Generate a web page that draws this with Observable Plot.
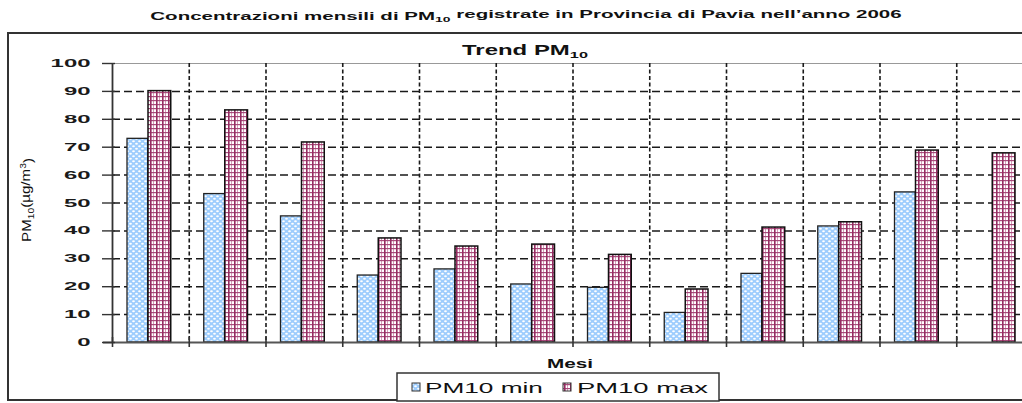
<!DOCTYPE html>
<html>
<head>
<meta charset="utf-8">
<script src="https://cdn.jsdelivr.net/npm/d3@7"></script>
<script src="https://cdn.jsdelivr.net/npm/@observablehq/plot@0.6"></script>
<style>
  html, body { margin: 0; padding: 0; background: #fff; }
  #wrap { position: relative; width: 1022px; height: 403px; overflow: hidden; background: #fff; }
  #wrap svg { position: absolute; left: 0; top: 0; max-width: none !important; }
  #overlay { pointer-events: none; }
</style>
</head>
<body>
<svg width="0" height="0" style="position:absolute">
  <defs>
    <pattern id="pmin" patternUnits="userSpaceOnUse" width="6" height="5">
      <rect width="6" height="5" fill="#9ecdfd"/>
      <ellipse cx="1.5" cy="1.25" rx="1.4" ry="1.05" fill="#ffffff"/>
      <ellipse cx="4.5" cy="3.75" rx="1.4" ry="1.05" fill="#ffffff"/>
    </pattern>
    <pattern id="pmax" patternUnits="userSpaceOnUse" width="6" height="4">
      <rect width="6" height="4" fill="#ffffff"/>
      <rect x="3" y="0" width="1" height="4" fill="#d59ab8"/>
      <rect x="0" y="0" width="6" height="1.2" fill="#a84c7c"/>
      <rect x="0" y="0" width="1.6" height="4" fill="#962d62"/>
    </pattern>
  </defs>
</svg>
<div id="wrap"></div>
<script>
const months = ["Gen","Feb","Mar","Apr","Mag","Giu","Lug","Ago","Set","Ott","Nov","Dic"];
const pm10Min = [73.0, 53.2, 45.2, 24.0, 26.2, 20.8, 19.6, 10.6, 24.6, 41.6, 53.8, null];
const pm10Max = [90.1, 83.2, 71.7, 37.3, 34.4, 35.1, 31.4, 19.0, 41.2, 43.1, 68.8, 67.8];
const yTicks = [0, 10, 20, 30, 40, 50, 60, 70, 80, 90, 100];
const seriesNames = ["PM10 min", "PM10 max"];

const FONT = "'Liberation Sans', Arial, Helvetica, sans-serif";

const rows = months.flatMap((m, i) => [
  {month: m, i, series: seriesNames[0], value: pm10Min[i]},
  {month: m, i, series: seriesNames[1], value: pm10Max[i]}
]).filter(d => d.value != null);

const boundaries = d3.range(0, months.length + 1);

const chart = Plot.plot({
  width: 1040,
  height: 403,
  marginLeft: 112,
  marginRight: 7,
  marginTop: 63,
  marginBottom: 61,
  x: {type: "linear", domain: [0, months.length], axis: null},
  y: {domain: [0, 100], axis: null},
  style: {background: "transparent", fontFamily: FONT, overflow: "visible"},
  marks: [
    Plot.ruleY(yTicks.filter(v => v > 0 && v < 100), {stroke: "#1a1a1a", strokeWidth: 1.5, strokeDasharray: "8,4"}),
    Plot.ruleY([100], {stroke: "#999", strokeWidth: 1}),
    Plot.ruleX(boundaries.slice(1), {stroke: "#1a1a1a", strokeWidth: 1.6, strokeDasharray: "4,2.5"}),
    Plot.rect(rows.filter(d => d.series === seriesNames[0]), {
      x1: "i", x2: d => d.i + 1, y1: 0, y2: "value",
      insetLeft: 15, insetRight: 41,
      fill: "url(#pmin)", stroke: "#222", strokeWidth: 1.3
    }),
    Plot.rect(rows.filter(d => d.series === seriesNames[1]), {
      x1: "i", x2: d => d.i + 1, y1: 0, y2: "value",
      insetLeft: 36, insetRight: 18,
      fill: "url(#pmax)", stroke: "#111", strokeWidth: 1.5
    }),
    Plot.ruleX([0], {stroke: "#333", strokeWidth: 1.8}),
    Plot.ruleY([0], {stroke: "#555", strokeWidth: 1.8, insetLeft: -9}),
    Plot.ruleX(boundaries, {y1: 0, y2: 0, insetTop: -5, insetBottom: -5, stroke: "#333", strokeWidth: 1.6}),
    Plot.ruleY(yTicks, {x1: 0, x2: 0, insetLeft: -10, insetRight: -3, stroke: "#333", strokeWidth: 1.4}),
    Plot.text(yTicks, {x: 0, y: d => d, text: d => String(d), textAnchor: "end", dx: -22,
      fontWeight: "bold", fontSize: 11, fill: "#1a1a1a"})
  ]
});
chart.style.maxWidth = "none";
chart.style.height = "403px";
document.getElementById("wrap").appendChild(chart);

// stretch tick labels to match the wide digits of the original
d3.select(chart).selectAll("text").each(function() {
  const s = this.textContent.trim();
  if (/^\d+$/.test(s)) {
    d3.select(this).attr("textLength", s.length * 13.3).attr("lengthAdjust", "spacingAndGlyphs");
  }
});

// overlay: frame, titles, axis labels, legend
const ov = d3.select("#wrap").append("svg")
  .attr("id", "overlay").attr("width", 1022).attr("height", 403);

ov.append("rect").attr("x", 8).attr("y", 33).attr("width", 1100).attr("height", 367)
  .attr("fill", "none").attr("stroke", "#333").attr("stroke-width", 2);

function label(parts, {x, y, size, weight = "normal", anchor = "middle", width, rotate = 0}) {
  const t = ov.append("text")
    .attr("font-family", FONT).attr("font-size", size).attr("font-weight", weight)
    .attr("text-anchor", anchor).attr("fill", "#111");
  let shift = 0;
  parts.forEach(p => {
    const ts = t.append("tspan").text(p.t);
    const want = p.sub ? 0.3 : p.sup ? -0.45 : 0;
    if (want !== shift) ts.attr("dy", (want - shift) + "em");
    if (p.sub || p.sup) ts.attr("font-size", size * 0.68);
    shift = want;
  });
  const w = t.node().getComputedTextLength();
  const s = width ? width / w : 1;
  t.attr("transform", `translate(${x},${y})${rotate ? ` rotate(${rotate})` : ""} scale(${s},1)`);
  return t;
}

label([{t: "Concentrazioni mensili di PM"}, {t: "10", sub: true}, {t: " registrate in Provincia di Pavia nell\u2019anno 2006"}],
  {x: 526, y: 19.5, size: 10.5, weight: "bold", width: 752});
label([{t: "Trend PM"}, {t: "10", sub: true}],
  {x: 525, y: 55, size: 14, weight: "bold", width: 126});
label([{t: "PM"}, {t: "10", sub: true}, {t: "(\u00b5g/m"}, {t: "3", sup: true}, {t: ")"}],
  {x: 31, y: 200, size: 13, width: 84, rotate: -90});
label([{t: "Mesi"}], {x: 570, y: 368, size: 13, weight: "bold", width: 46});

// legend
ov.append("rect").attr("x", 397).attr("y", 373).attr("width", 322).attr("height", 28)
  .attr("fill", "#fff").attr("stroke", "#333").attr("stroke-width", 1.5);
const legendItems = [
  {name: seriesNames[0], fill: "url(#pmin)", sx: 412, tx: 425, w: 118},
  {name: seriesNames[1], fill: "url(#pmax)", sx: 563, tx: 577, w: 131}
];
legendItems.forEach(it => {
  ov.append("rect").attr("x", it.sx).attr("y", 383).attr("width", 8).attr("height", 8)
    .attr("fill", it.fill).attr("stroke", "#333").attr("stroke-width", 1);
  label([{t: it.name}], {x: it.tx, y: 392.5, size: 15, anchor: "start", width: it.w});
});
</script>
</body>
</html>
